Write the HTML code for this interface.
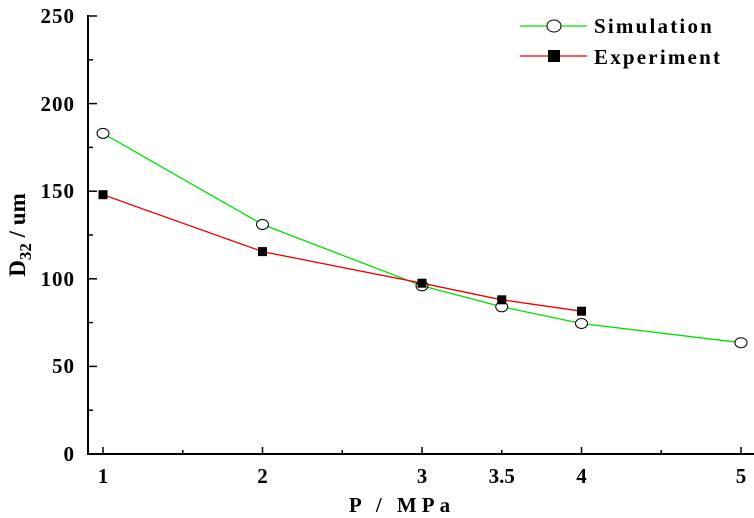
<!DOCTYPE html>
<html><head><style>body{margin:0;background:#fff}svg{display:block}text{font-family:"Liberation Serif",serif;font-weight:bold;fill:#000}</style></head>
<body>
<svg width="754" height="518" viewBox="0 0 754 518">
<g stroke="#000" stroke-width="2" fill="none">
<line x1="88" y1="15" x2="88" y2="455"/>
<line x1="87" y1="454" x2="754" y2="454"/>
</g>
<g stroke="#000" stroke-width="1.5">
<line x1="88" y1="16" x2="97" y2="16"/><line x1="88" y1="59.8" x2="93" y2="59.8"/>
<line x1="88" y1="103.6" x2="97" y2="103.6"/><line x1="88" y1="147.4" x2="93" y2="147.4"/>
<line x1="88" y1="191.2" x2="97" y2="191.2"/><line x1="88" y1="235" x2="93" y2="235"/>
<line x1="88" y1="278.8" x2="97" y2="278.8"/><line x1="88" y1="322.6" x2="93" y2="322.6"/>
<line x1="88" y1="366.4" x2="97" y2="366.4"/><line x1="88" y1="410.2" x2="93" y2="410.2"/>
<line x1="103" y1="454" x2="103" y2="447"/><line x1="182.75" y1="454" x2="182.75" y2="450"/>
<line x1="262.5" y1="454" x2="262.5" y2="447"/><line x1="342.25" y1="454" x2="342.25" y2="450"/>
<line x1="422" y1="454" x2="422" y2="447"/><line x1="501.75" y1="454" x2="501.75" y2="450"/>
<line x1="581.5" y1="454" x2="581.5" y2="447"/><line x1="661.25" y1="454" x2="661.25" y2="450"/>
<line x1="741" y1="454" x2="741" y2="447"/>
</g>
<g font-size="21" text-anchor="end" letter-spacing="1">
<text x="75" y="23">250</text><text x="75" y="111">200</text><text x="75" y="198">150</text>
<text x="75" y="286">100</text><text x="75" y="373">50</text><text x="75" y="461">0</text>
</g>
<g font-size="21" text-anchor="middle">
<text x="103" y="483">1</text><text x="262.5" y="483">2</text><text x="422" y="483">3</text>
<text x="501.75" y="483">3.5</text><text x="581.5" y="483">4</text><text x="741" y="483">5</text>
</g>
<text x="402" y="512" font-size="21" text-anchor="middle" letter-spacing="5">P / MPa</text>
<text transform="translate(25,235) rotate(-90)" font-size="23" text-anchor="middle">D<tspan font-size="17" dy="6">32</tspan><tspan dy="-6"> / um</tspan></text>
<polyline fill="none" stroke="#00e000" stroke-width="1.3" points="103,133.4 262.5,224.5 422,285.8 501.75,306.8 581.5,323.5 741,342.7"/>
<polyline fill="none" stroke="#f00000" stroke-width="1.3" points="103,194.7 262.5,251.6 422,283.2 501.75,299.8 581.5,311.2"/>
<g fill="#fff" stroke="#000" stroke-width="1">
<ellipse cx="103" cy="133.4" rx="6" ry="5"/><ellipse cx="262.5" cy="224.5" rx="6" ry="5"/>
<ellipse cx="422" cy="285.8" rx="6" ry="5"/><ellipse cx="501.75" cy="306.8" rx="6" ry="5"/>
<ellipse cx="581.5" cy="323.5" rx="6" ry="5"/><ellipse cx="741" cy="342.7" rx="6" ry="5"/>
</g>
<g fill="#000">
<rect x="98.5" y="190.2" width="9" height="9"/><rect x="258" y="247.1" width="9" height="9"/>
<rect x="417.5" y="278.7" width="9" height="9"/><rect x="497.25" y="295.3" width="9" height="9"/>
<rect x="577" y="306.7" width="9" height="9"/>
</g>
<line x1="520" y1="26" x2="587" y2="26" stroke="#00e000" stroke-width="1.3"/>
<ellipse cx="554" cy="26" rx="7" ry="6" fill="#fff" stroke="#000"/>
<line x1="520" y1="56" x2="587" y2="56" stroke="#f00000" stroke-width="1.3"/>
<rect x="548" y="50" width="12" height="12" fill="#000"/>
<text x="594" y="33" font-size="21" letter-spacing="2.2">Simulation</text>
<text x="594" y="64" font-size="21" letter-spacing="2.2">Experiment</text>
</svg>
</body></html>
